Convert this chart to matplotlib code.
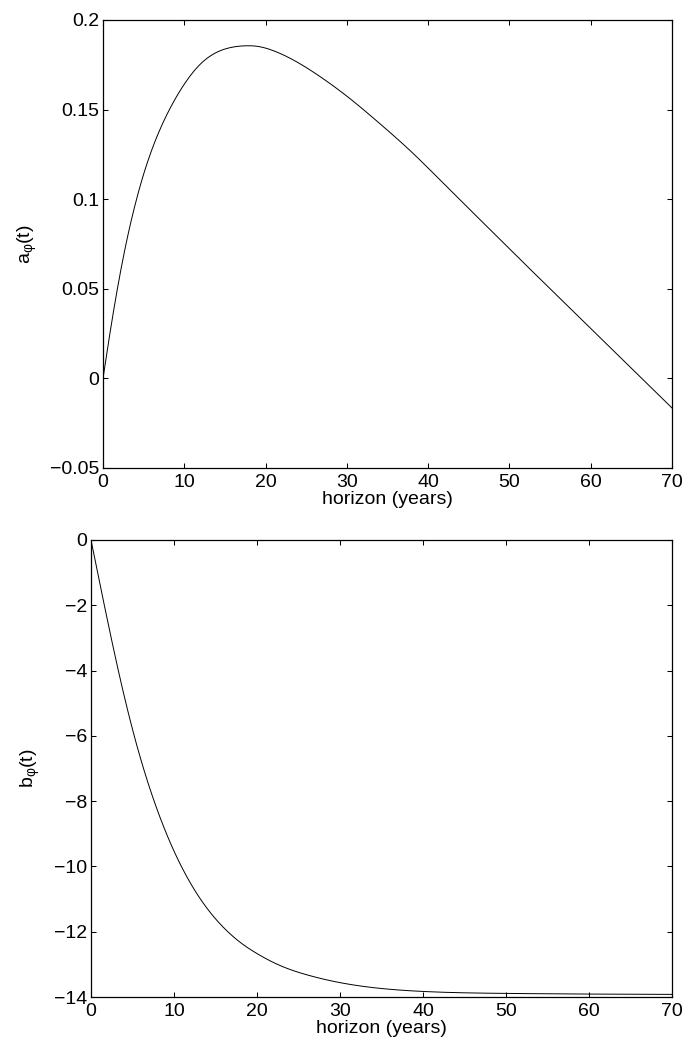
import numpy as np
import matplotlib
matplotlib.use("Agg")
import matplotlib.pyplot as plt

plt.rcParams['font.family'] = ['Liberation Sans', 'DejaVu Sans']
plt.rcParams['mathtext.fontset'] = 'custom'
plt.rcParams['mathtext.rm'] = 'Liberation Sans'
plt.rcParams['axes.unicode_minus'] = True

# --- data ---
t_a = [0, 1, 2, 3, 4, 5, 6, 8, 10, 12, 14, 16, 17.5, 19, 21, 24, 27, 30, 34,
       38, 42, 46, 50, 54, 58, 62, 66, 70]
a_phi = [0.0, 0.0293, 0.0558, 0.0786, 0.0978, 0.1140, 0.1275, 0.1485, 0.1642,
         0.1755, 0.1820, 0.1849, 0.1856, 0.1853, 0.1828, 0.1762, 0.1675,
         0.1575, 0.1424, 0.1262, 0.1083, 0.0903, 0.0723, 0.0545, 0.0368,
         0.0190, 0.0012, -0.0165]

t_b = [0, 2, 4, 6, 8, 10, 12, 14, 16, 18, 20, 23, 26, 30, 35, 40, 50, 60, 70]
b_phi = [0.0, -2.48, -4.78, -6.72, -8.28, -9.53, -10.52, -11.29, -11.88,
         -12.33, -12.67, -13.06, -13.32, -13.56, -13.74, -13.83, -13.89,
         -13.91, -13.92]

xticks = [0, 10, 20, 30, 40, 50, 60, 70]
a_yticks = [-0.05, 0, 0.05, 0.1, 0.15, 0.2]
b_yticks = [-14, -12, -10, -8, -6, -4, -2, 0]
a_yticklabels = ['\u22120.05', '0', '0.05', '0.1', '0.15', '0.2']
b_yticklabels = ['\u221214', '\u221212', '\u221210', '\u22128', '\u22126', '\u22124', '\u22122', '0']

W, H = 687, 1048
fig = plt.figure(figsize=(W / 100, H / 100), dpi=100)

ax1 = fig.add_axes([103 / W, (H - 468) / H, 569 / W, 448 / H])
ax2 = fig.add_axes([91 / W, (H - 997) / H, 581 / W, 457 / H])


def smooth(x, y, n=600):
    """Natural cubic spline through the read points."""
    x = np.asarray(x, float); y = np.asarray(y, float)
    N = len(x)
    h = np.diff(x)
    A = np.zeros((N, N)); r = np.zeros(N)
    A[0, 0] = 1; A[-1, -1] = 1
    for i in range(1, N - 1):
        A[i, i - 1] = h[i - 1]
        A[i, i] = 2 * (h[i - 1] + h[i])
        A[i, i + 1] = h[i]
        r[i] = 6 * ((y[i + 1] - y[i]) / h[i] - (y[i] - y[i - 1]) / h[i - 1])
    M = np.linalg.solve(A, r)
    xs = np.linspace(x[0], x[-1], n)
    idx = np.clip(np.searchsorted(x, xs) - 1, 0, N - 2)
    x0 = x[idx]; x1 = x[idx + 1]; hh = h[idx]
    ys = (M[idx] * (x1 - xs) ** 3 / (6 * hh) + M[idx + 1] * (xs - x0) ** 3 / (6 * hh)
          + (y[idx] / hh - M[idx] * hh / 6) * (x1 - xs)
          + (y[idx + 1] / hh - M[idx + 1] * hh / 6) * (xs - x0))
    return xs, ys


xa, ya = smooth(t_a, a_phi)
xb, yb = smooth(t_b, b_phi)

ax1.plot(xa, ya, color='black', lw=0.7)
ax2.plot(xb, yb, color='black', lw=0.7)

for ax in (ax1, ax2):
    ax.set_xlim(0, 70)
    ax.set_xticks(xticks)
    ax.set_xticklabels([str(v) for v in xticks])
    ax.tick_params(axis='both', which='both', direction='in', top=True, right=True,
                   length=3.6, width=0.75, labelsize=14, colors='black')
    ax.tick_params(axis='x', pad=4.5)
    ax.tick_params(axis='y', pad=2.5)
    for sp in ax.spines.values():
        sp.set_linewidth(0.9)
    ax.set_xlabel('horizon (years)', fontsize=14, labelpad=0)

ax1.set_ylim(-0.05, 0.2)
ax1.set_yticks(a_yticks)
ax1.set_yticklabels(a_yticklabels)
ax2.set_ylim(-14, 0)
ax2.set_yticks(b_yticks)
ax2.set_yticklabels(b_yticklabels)

ax1.set_ylabel(r'a$_\mathregular{φ}$(t)', fontsize=14, rotation=90,
               ha='center', va='center', rotation_mode='default')
ax1.yaxis.set_label_coords((27.5 - 103) / 569, 0.5)
ax2.set_ylabel(r'b$_\mathregular{φ}$(t)', fontsize=14, rotation=90,
               ha='center', va='center', rotation_mode='default')
ax2.yaxis.set_label_coords((30.5 - 91) / 581, 0.5)

fig.savefig('out.png', dpi=100)
